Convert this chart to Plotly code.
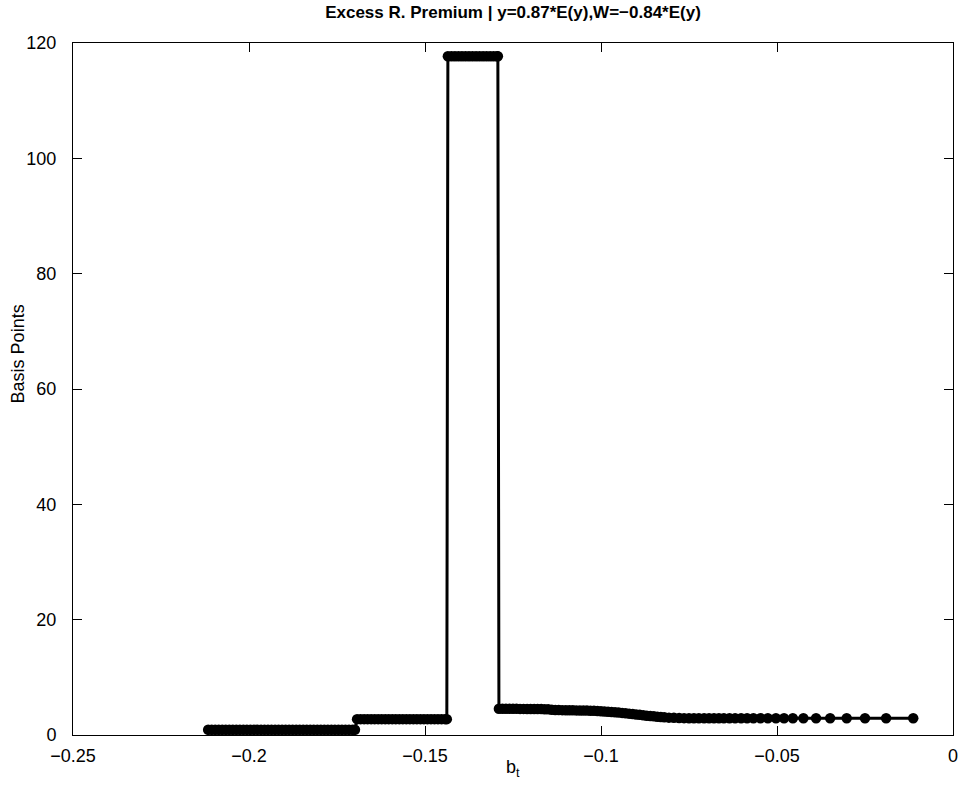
import plotly.graph_objects as go

# Segment 1 (low plateau)
x_seg1 = [-0.2116, -0.2106, -0.2096, -0.2086, -0.2076, -0.2066, -0.2056, -0.2046, -0.2036, -0.2026,
          -0.2016, -0.2006, -0.1996, -0.1986, -0.1976, -0.1966, -0.1956, -0.1946, -0.1936, -0.1926,
          -0.1916, -0.1906, -0.1896, -0.1886, -0.1876, -0.1866, -0.1856, -0.1846, -0.1836, -0.1826,
          -0.1816, -0.1806, -0.1796, -0.1786, -0.1776, -0.1766, -0.1756, -0.1746, -0.1736, -0.1726,
          -0.1716, -0.1706, -0.1699]
y_seg1 = [0.9] * len(x_seg1)

# Segment 2
x_seg2 = [-0.1693, -0.1683, -0.1673, -0.1663, -0.1653, -0.1643, -0.1633, -0.1623, -0.1613, -0.1603,
          -0.1593, -0.1583, -0.1573, -0.1563, -0.1553, -0.1543, -0.1533, -0.1523, -0.1513, -0.1503,
          -0.1493, -0.1483, -0.1473, -0.1463, -0.1453, -0.1443, -0.1438]
y_seg2 = [2.75] * len(x_seg2)

# Segment 3 (spike)
x_seg3 = [-0.1435, -0.1425, -0.1415, -0.1405, -0.1395, -0.1385, -0.1375, -0.1365, -0.1355, -0.1345,
          -0.1335, -0.1325, -0.1315, -0.1305, -0.1295, -0.1293]
y_seg3 = [117.7] * len(x_seg3)

# Segment 4 (declining tail)
x_seg4 = [-0.1290, -0.1280, -0.1270, -0.1260, -0.1250, -0.1240, -0.1230, -0.1220, -0.1210, -0.1200,
          -0.1190, -0.1180, -0.1170, -0.1160, -0.1150,
          -0.1140, -0.1130, -0.1120, -0.1110, -0.1100, -0.1090, -0.1080, -0.1070, -0.1060, -0.1050,
          -0.1040, -0.1030, -0.1020, -0.1010, -0.1000,
          -0.0990, -0.0980, -0.0970, -0.0960, -0.0950, -0.0940, -0.0930, -0.0920, -0.0910, -0.0900,
          -0.0890, -0.0880, -0.0870, -0.0860, -0.0850,
          -0.0840, -0.0830, -0.0820,
          -0.0807, -0.0793, -0.0778, -0.0764, -0.0750, -0.0736, -0.0722, -0.0707,
          -0.0693, -0.0679, -0.0665, -0.0651, -0.0635, -0.0619, -0.0602, -0.0585, -0.0567, -0.0547,
          -0.0526, -0.0503, -0.0480, -0.0455, -0.0425, -0.0389, -0.0349, -0.0302, -0.0250, -0.0190,
          -0.0113]
y_seg4 = [4.55, 4.55, 4.55, 4.55, 4.54, 4.54, 4.53, 4.53, 4.52, 4.52,
          4.51, 4.50, 4.49, 4.47, 4.45,
          4.38, 4.35, 4.33, 4.31, 4.30, 4.29, 4.28, 4.27, 4.26, 4.25,
          4.23, 4.21, 4.19, 4.16, 4.12,
          4.07, 4.03, 3.99, 3.94, 3.89, 3.83, 3.77, 3.70, 3.63, 3.56,
          3.49, 3.42, 3.35, 3.29, 3.23,
          3.17, 3.11, 3.06,
          3.01, 2.97, 2.94, 2.92, 2.91, 2.90, 2.90, 2.90,
          2.90, 2.90, 2.90, 2.90, 2.90, 2.90, 2.90, 2.90, 2.90, 2.90,
          2.90, 2.90, 2.90, 2.90, 2.90, 2.90, 2.90, 2.90, 2.90, 2.90,
          2.90]

x_all = x_seg1 + x_seg2 + x_seg3 + x_seg4
y_all = y_seg1 + y_seg2 + y_seg3 + y_seg4

x_ticks = [-0.25, -0.2, -0.15, -0.1, -0.05, 0]
x_ticktext = ["\u22120.25", "\u22120.2", "\u22120.15", "\u22120.1", "\u22120.05", "0"]
y_ticks = [0, 20, 40, 60, 80, 100, 120]

title_text = "Excess R. Premium | y=0.87*E(y),W=\u22120.84*E(y)"

fig = go.Figure()
fig.add_trace(go.Scatter(
    x=x_all, y=y_all, mode="lines+markers",
    line=dict(color="black", width=3),
    marker=dict(color="black", size=10.5),
    showlegend=False,
))

font_family = "Liberation Sans, Arial, Helvetica, sans-serif"

fig.update_layout(
    width=959, height=792,
    margin=dict(l=73, r=6, t=43, b=57),
    paper_bgcolor="white", plot_bgcolor="white",
    font=dict(family=font_family, color="black", size=18),
    title=dict(text="<b>" + title_text + "</b>", x=0.5, xanchor="center",
               xref="paper", y=1 - 12 / 792, yref="container", yanchor="middle",
               font=dict(size=17, family=font_family, color="black")),
)
fig.update_xaxes(
    range=[-0.25, 0], tickvals=x_ticks, ticktext=x_ticktext, automargin=False,
    showgrid=False, zeroline=False, showline=True, linecolor="black", linewidth=1,
    mirror="ticks", ticks="inside", ticklen=9, tickcolor="black",
    tickfont=dict(size=18), ticklabelstandoff=4,
)
fig.update_yaxes(
    range=[0, 120], tickvals=y_ticks, automargin=False,
    showgrid=False, zeroline=False, showline=True, linecolor="black", linewidth=1,
    mirror="ticks", ticks="inside", ticklen=9, tickcolor="black",
    tickfont=dict(size=18), ticklabelstandoff=12,
)
fig.add_annotation(
    text="b<sub>t</sub>", xref="paper", yref="paper", x=0.5, y=-0.049,
    xanchor="center", yanchor="middle", showarrow=False,
    font=dict(size=18, family=font_family, color="black"),
)
fig.add_annotation(
    text="Basis Points", xref="paper", yref="paper", x=-0.0625, y=0.55,
    xanchor="center", yanchor="middle", showarrow=False, textangle=-90,
    font=dict(size=18, family=font_family, color="black"),
)

fig.write_html("out.html", config={"displayModeBar": False},
               post_script="document.body.style.margin='0px';document.body.style.overflow='hidden';")
